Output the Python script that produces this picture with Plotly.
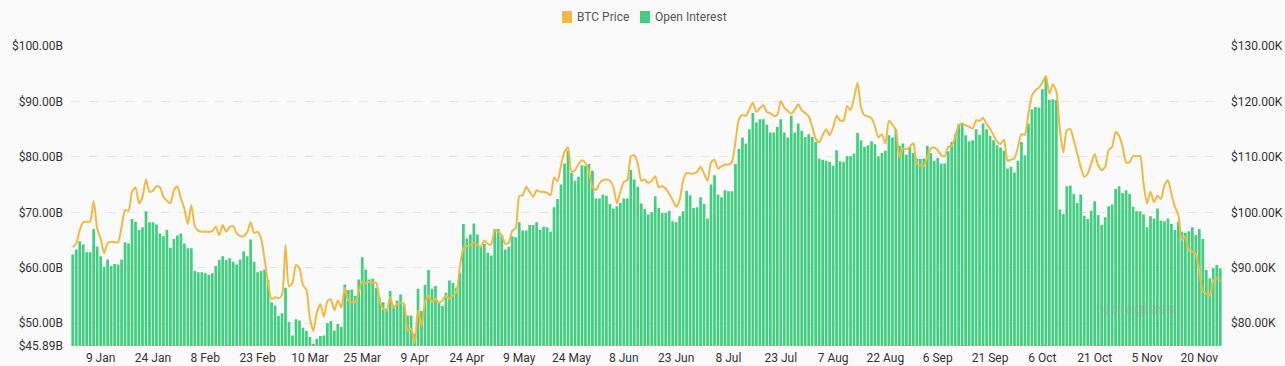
import pandas as pd
import plotly.graph_objects as go

start_date = "2025-01-01"

open_interest_b = [
    62.4, 63.3, 64.8, 64.2, 62.8, 62.8, 67.0, 63.8, 62.1, 60.2,
    61.5, 60.3, 60.7, 60.6, 61.5, 64.6, 64.4, 68.8, 68.3, 66.8,
    67.3, 70.2, 68.2, 68.2, 67.8, 66.2, 65.7, 66.8, 63.6, 65.2,
    65.8, 66.2, 64.4, 63.5, 63.5, 59.4, 59.2, 59.2, 59.0, 58.7,
    59.0, 60.3, 61.4, 62.1, 61.4, 61.7, 61.1, 60.6, 61.5, 63.0,
    62.1, 65.1, 61.1, 59.2, 59.4, 59.7, 57.8, 53.8, 53.2, 51.3,
    51.8, 56.4, 50.2, 47.8, 50.7, 50.5, 49.2, 48.6, 47.5, 46.3,
    47.2, 47.7, 47.8, 50.0, 50.4, 48.7, 49.9, 49.3, 57.0, 56.0,
    56.1, 54.9, 57.9, 61.9, 59.7, 57.9, 58.0, 56.4, 54.6, 53.8,
    52.6, 55.8, 53.2, 54.1, 55.2, 53.4, 51.4, 51.4, 48.1, 56.2,
    52.2, 56.9, 59.6, 56.2, 56.7, 53.8, 53.1, 55.5, 57.7, 57.3,
    56.4, 59.1, 67.9, 65.3, 66.0, 68.0, 66.0, 63.8, 64.3, 62.7,
    62.2, 67.0, 67.0, 65.9, 63.3, 63.8, 65.7, 65.5, 68.2, 66.7,
    66.7, 67.7, 67.7, 68.2, 66.8, 67.4, 67.3, 66.5, 70.9, 72.4,
    75.0, 78.8, 81.1, 77.1, 75.7, 76.4, 78.5, 78.4, 78.7, 77.5,
    72.5, 72.5, 73.2, 73.0, 71.5, 70.7, 71.1, 71.7, 72.5, 72.5,
    77.7, 75.9, 74.6, 71.6, 70.6, 69.6, 70.0, 72.9, 70.8, 69.9,
    69.9, 70.3, 68.4, 68.2, 69.3, 70.2, 73.9, 73.1, 70.8, 70.9,
    72.7, 71.5, 68.9, 75.0, 76.7, 73.2, 72.7, 74.0, 73.8, 73.8,
    78.7, 81.4, 83.5, 82.4, 85.0, 87.9, 86.2, 86.8, 86.8, 85.8,
    84.4, 84.4, 85.4, 86.8, 84.4, 83.5, 87.4, 84.4, 86.0, 84.7,
    83.6, 84.1, 83.6, 82.7, 79.7, 79.5, 79.3, 79.1, 78.4, 81.2,
    79.2, 79.1, 80.1, 80.1, 80.6, 84.3, 83.0, 81.8, 82.1, 82.8,
    82.3, 80.1, 80.7, 81.1, 83.9, 83.5, 85.0, 82.0, 82.4, 80.4,
    81.7, 80.7, 79.7, 79.6, 79.7, 82.0, 80.7, 79.3, 79.8, 78.8,
    78.8, 81.0, 82.7, 84.1, 85.9, 86.0, 83.9, 82.8, 83.0, 85.0,
    84.0, 86.0, 85.0, 83.8, 83.0, 82.1, 81.7, 81.1, 77.9, 78.2,
    77.2, 79.3, 82.7, 80.3, 86.0, 88.6, 89.0, 88.9, 92.2, 94.3,
    90.3, 90.4, 90.3, 70.5, 69.7, 74.7, 74.8, 73.3, 71.7, 73.2,
    69.4, 68.8, 70.3, 72.0, 69.5, 67.7, 69.1, 71.1, 71.4, 74.2,
    74.7, 73.5, 74.0, 73.3, 71.0, 70.2, 70.2, 69.6, 67.3, 69.3,
    68.9, 70.7, 68.5, 68.4, 68.9, 67.9, 66.8, 68.3, 66.5, 66.3,
    66.6, 67.3, 65.9, 67.0, 65.2, 59.6, 58.1, 59.9, 60.5, 59.9,
]

btc_price_k = [
    93.7, 94.4, 96.8, 98.2, 98.3, 98.4, 102.1, 97.1, 95.3, 92.6,
    94.4, 94.7, 94.6, 94.6, 97.4, 100.4, 100.3, 103.7, 104.5, 101.6,
    102.8, 105.9, 103.7, 103.9, 104.7, 104.5, 102.8, 102.1, 101.6, 104.0,
    104.7, 102.5, 100.7, 97.9, 101.3, 97.5, 96.7, 96.5, 96.5, 96.5,
    96.6, 97.4, 95.9, 97.7, 96.5, 97.4, 97.5, 96.2, 95.7, 95.7,
    96.4, 98.2, 96.3, 96.5, 95.3, 91.5, 87.3, 84.3, 84.7, 84.5,
    85.1, 94.1, 86.6, 87.3, 90.5, 89.9, 86.9, 86.0, 80.8, 78.6,
    82.0, 83.4, 81.1, 84.0, 84.3, 82.3, 84.1, 82.8, 86.4, 84.1,
    83.8, 83.8, 85.8, 87.5, 87.2, 87.5, 87.3, 87.3, 84.1, 82.6,
    82.3, 84.7, 82.8, 83.4, 83.7, 83.5, 78.7, 79.0, 76.4, 82.3,
    79.6, 83.8, 85.0, 83.8, 84.4, 83.7, 84.1, 84.9, 84.4, 85.0,
    85.6, 90.2, 93.5, 93.9, 94.1, 94.5, 94.1, 93.8, 94.9, 94.3,
    94.2, 96.8, 96.5, 95.9, 94.3, 94.5, 96.7, 97.1, 102.9, 103.1,
    104.6, 103.7, 102.8, 104.0, 103.7, 103.7, 103.5, 103.1, 106.3, 105.6,
    108.5, 110.9, 111.7, 107.3, 107.6, 108.7, 109.4, 108.9, 107.3, 104.6,
    104.0, 105.2, 105.8, 105.9, 105.7, 104.6, 101.6, 103.7, 105.5, 105.8,
    110.1, 110.3, 108.8, 105.7, 105.9, 105.3, 105.7, 106.5, 104.5, 104.7,
    104.3, 103.3, 102.2, 101.0, 102.2, 105.7, 107.1, 107.0, 107.0, 107.3,
    108.2, 107.0, 105.7, 109.0, 109.5, 107.9, 108.3, 108.6, 108.6, 109.1,
    112.7, 116.8, 117.6, 117.4, 118.6, 119.8, 118.1, 118.8, 119.3, 118.1,
    117.9, 117.4, 117.6, 120.1, 118.9, 118.3, 117.8, 118.5, 119.5, 118.4,
    117.9, 117.3, 115.5, 113.3, 112.6, 113.9, 115.0, 113.9, 115.3, 117.4,
    116.6, 116.5, 119.2, 118.4, 120.6, 123.4, 119.0, 117.5, 117.3, 117.0,
    115.5, 113.5, 114.1, 112.4, 116.5, 115.8, 114.8, 110.0, 111.5, 111.4,
    111.8, 112.5, 108.8, 108.5, 108.3, 110.0, 111.5, 111.7, 111.2, 110.3,
    110.1, 111.8, 112.0, 113.6, 115.7, 116.0, 115.7, 115.4, 115.1, 116.6,
    116.5, 117.0, 115.9, 115.1, 113.9, 112.8, 112.3, 113.1, 109.3, 109.5,
    109.7, 111.8, 114.1, 114.0, 117.8, 121.0, 122.0, 122.5, 123.4, 124.6,
    121.4, 123.1, 121.8, 115.0, 110.8, 114.8, 115.0, 113.0, 110.6, 108.2,
    106.4, 107.0, 108.8, 110.5, 108.5, 107.6, 108.2, 111.2, 111.8, 114.5,
    113.8, 111.8, 109.0, 109.0, 110.2, 110.1, 110.2, 105.2, 101.6, 103.7,
    101.8, 103.0, 102.4, 104.9, 105.8, 103.3, 101.0, 99.5, 95.0, 95.6,
    93.0, 92.9, 92.5, 89.3, 85.7, 85.4, 85.0, 87.8, 88.1, 87.6,
]

x_tick_dates = [
    "2025-01-09", "2025-01-24", "2025-02-08", "2025-02-23", "2025-03-10",
    "2025-03-25", "2025-04-09", "2025-04-24", "2025-05-09", "2025-05-24",
    "2025-06-08", "2025-06-23", "2025-07-08", "2025-07-23", "2025-08-07",
    "2025-08-22", "2025-09-06", "2025-09-21", "2025-10-06", "2025-10-21",
    "2025-11-05", "2025-11-20",
]
x_tick_labels = [
    "9 Jan", "24 Jan", "8 Feb", "23 Feb", "10 Mar", "25 Mar", "9 Apr",
    "24 Apr", "9 May", "24 May", "8 Jun", "23 Jun", "8 Jul", "23 Jul",
    "7 Aug", "22 Aug", "6 Sep", "21 Sep", "6 Oct", "21 Oct", "5 Nov", "20 Nov",
]

left_tick_vals = [45.89, 50, 60, 70, 80, 90, 100]
left_tick_text = ["$45.89B", "$50.00B", "$60.00B", "$70.00B", "$80.00B", "$90.00B", "$100.00B"]
right_tick_vals = [80, 90, 100, 110, 120, 130]
right_tick_text = ["$80.00K", "$90.00K", "$100.00K", "$110.00K", "$120.00K", "$130.00K"]

legend_names = ["BTC Price", "Open Interest"]

dates = pd.date_range(start_date, periods=len(open_interest_b), freq="D")

GREEN = "#42ce80"
GOLD = "#efb943"
FONT = "Roboto"

W, H = 1285, 366
ML, MR, MT, MB = 71, 63, 46, 20
PW = W - ML - MR
PH = H - MT - MB


def px_x(x):
    return (x - ML) / PW


def px_y(y):
    return (H - MB - y) / PH


fig = go.Figure()
fig.add_trace(go.Bar(x=dates, y=open_interest_b, name=legend_names[1],
                     marker=dict(color=GREEN, line=dict(width=0)), yaxis="y"))
fig.add_trace(go.Scatter(x=dates, y=btc_price_k, name=legend_names[0], mode="lines", yaxis="y2",
                         line=dict(color=GOLD, width=2, shape="spline", smoothing=0.6)))

x0 = dates[0] - pd.Timedelta(hours=12)
x1 = dates[-1] + pd.Timedelta(hours=12)

# custom legend (squares + text), matching the reference's compact layout
legend_items = [(562, GOLD, legend_names[0]), (640, GREEN, legend_names[1])]
shapes = []
annotations = []
for lx, col, name in legend_items:
    shapes.append(dict(type="rect", xref="paper", yref="paper",
                       x0=px_x(lx), x1=px_x(lx + 10), y0=px_y(23), y1=px_y(11),
                       fillcolor=col, line=dict(width=0), layer="above"))
    annotations.append(dict(text=name, xref="paper", yref="paper", x=px_x(lx + 13), y=px_y(17),
                            xanchor="left", yanchor="middle", showarrow=False,
                            font=dict(family=FONT, size=12, color="#555555")))

annotations.append(dict(text="<b>coinglass</b>", xref="paper", yref="paper", x=px_x(1178), y=px_y(320),
                        showarrow=False, font=dict(family=FONT, size=17,
                                                   color="rgba(160,160,160,0.3)")))

fig.update_layout(
    width=W, height=H,
    margin=dict(l=ML, r=MR, t=MT, b=MB, autoexpand=False),
    paper_bgcolor="#fafafa", plot_bgcolor="#fafafa",
    bargap=0.22,
    font=dict(family=FONT, size=12, color="#333333"),
    showlegend=False,
    xaxis=dict(type="date", range=[x0, x1], tickvals=x_tick_dates, ticktext=x_tick_labels,
               showgrid=False, zeroline=False, showline=False, ticks="",
               ticklabelstandoff=3,
               tickfont=dict(family=FONT, size=12, color="#333333")),
    yaxis=dict(range=[45.89, 100], tickvals=left_tick_vals, ticktext=left_tick_text,
               showgrid=True, gridcolor="#e6e6e6", griddash="dash", gridwidth=1,
               zeroline=False, showline=False, ticks="", ticklabelstandoff=7,
               tickfont=dict(family=FONT, size=12, color="#333333")),
    yaxis2=dict(range=[75.89, 130], tickvals=right_tick_vals, ticktext=right_tick_text,
                overlaying="y", side="right", showgrid=False, zeroline=False,
                showline=False, ticks="", ticklabelstandoff=8,
                tickfont=dict(family=FONT, size=12, color="#333333")),
    shapes=shapes,
    annotations=annotations,
)

fig.write_html("out.html", config={"displayModeBar": False},
               post_script="document.body.style.margin='0px';")
